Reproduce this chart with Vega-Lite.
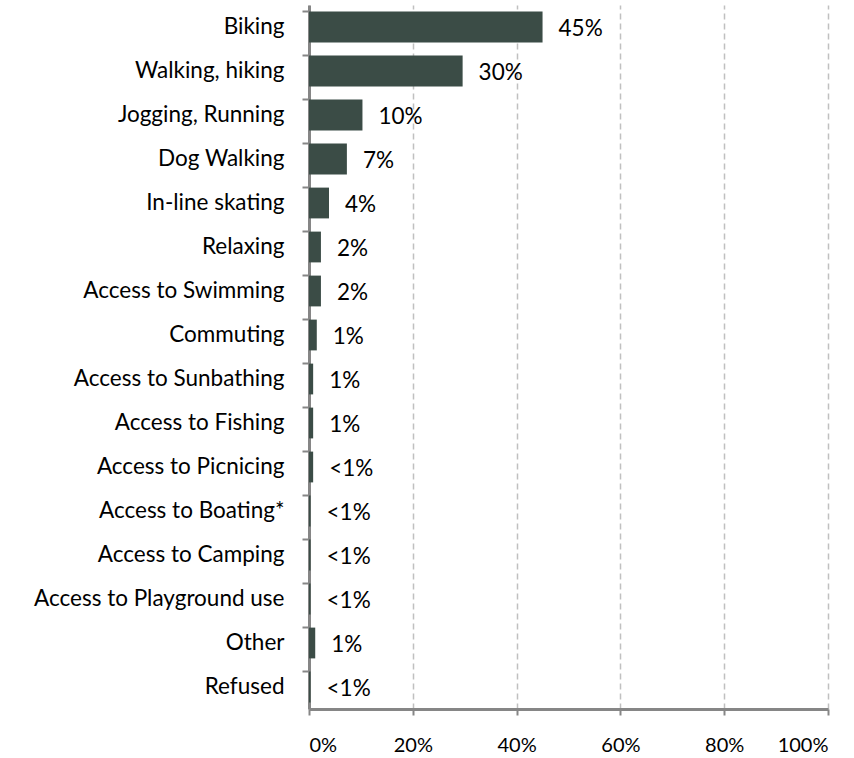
{
  "$schema": "https://vega.github.io/schema/vega-lite/v6.json",
  "width": 519,
  "height": 704,
  "autosize": {"type": "none"},
  "padding": {"left": 309, "top": 5, "right": 26, "bottom": 49},
  "background": "white",
  "config": {"view": {"stroke": null}},
  "data": {"values": [
    {"activity": "Biking", "pct": 0.45, "label": "45%"},
    {"activity": "Walking, hiking", "pct": 0.296, "label": "30%"},
    {"activity": "Jogging, Running", "pct": 0.103, "label": "10%"},
    {"activity": "Dog Walking", "pct": 0.073, "label": "7%"},
    {"activity": "In-line skating", "pct": 0.0385, "label": "4%"},
    {"activity": "Relaxing", "pct": 0.023, "label": "2%"},
    {"activity": "Access to Swimming", "pct": 0.023, "label": "2%"},
    {"activity": "Commuting", "pct": 0.015, "label": "1%"},
    {"activity": "Access to Sunbathing", "pct": 0.008, "label": "1%"},
    {"activity": "Access to Fishing", "pct": 0.008, "label": "1%"},
    {"activity": "Access to Picnicing", "pct": 0.008, "label": "<1%"},
    {"activity": "Access to Boating*", "pct": 0.003, "label": "<1%"},
    {"activity": "Access to Camping", "pct": 0.003, "label": "<1%"},
    {"activity": "Access to Playground use", "pct": 0.003, "label": "<1%"},
    {"activity": "Other", "pct": 0.012, "label": "1%"},
    {"activity": "Refused", "pct": 0.003, "label": "<1%"}
  ]},
  "encoding": {
    "y": {
      "field": "activity", "type": "nominal", "sort": null,
      "scale": {"paddingInner": 0.3, "paddingOuter": 0.15},
      "axis": {
        "title": null, "bandPosition": 0, "domainColor": "#868686", "domainWidth": 3,
        "tickColor": "#868686", "tickWidth": 2, "tickSize": 7,
        "labelFont": "Lato", "labelFontSize": 22.5, "labelColor": "#000000",
        "labelPadding": 18, "labelLimit": 0, "grid": false
      }
    },
    "x": {
      "field": "pct", "type": "quantitative",
      "scale": {"domain": [0, 1]},
      "axis": {
        "title": null, "format": "%", "values": [0, 0.2, 0.4, 0.6, 0.8, 1],
        "domainColor": "#868686", "domainWidth": 3,
        "tickColor": "#868686", "tickWidth": 2, "tickSize": 6,
        "labelFont": "Lato", "labelFontSize": 20, "labelColor": "#000000",
        "labelPadding": 20,
        "grid": true, "gridColor": "#c0c0c0", "gridWidth": 1.5, "gridDash": [6, 4]
      }
    }
  },
  "layer": [
    {"mark": {"type": "bar", "color": "#3b4c46"}},
    {"mark": {"type": "text", "align": "left", "baseline": "middle", "dx": 16, "dy": 2, "font": "Lato", "fontSize": 22.5, "color": "#000000"},
     "encoding": {"text": {"field": "label"}}}
  ]
}
